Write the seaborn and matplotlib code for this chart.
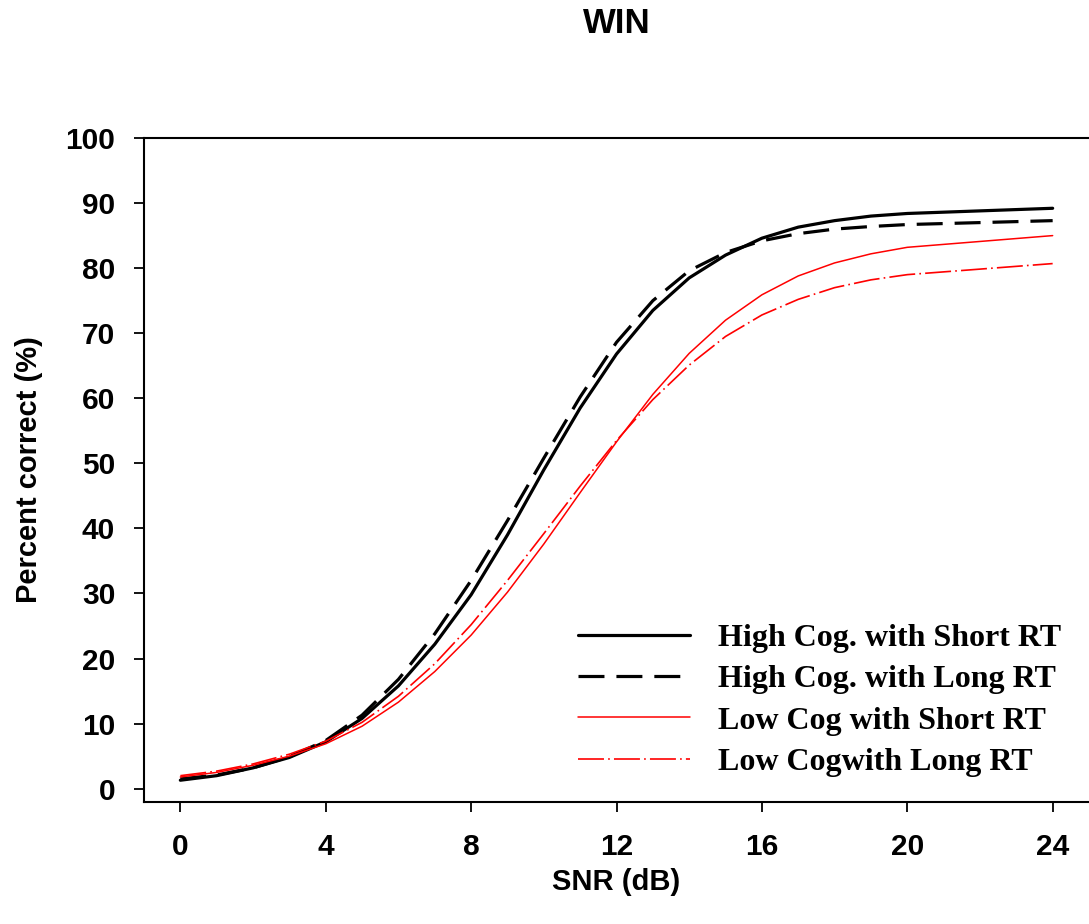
import numpy as np
import pandas as pd
import matplotlib
matplotlib.use("Agg")
import matplotlib.pyplot as plt
import seaborn as sns

# ---- data ----
snr = [0, 1, 2, 3, 4, 5, 6, 7, 8, 9, 10, 11, 12, 13, 14, 15, 16, 17, 18, 19, 20, 24]
high_short = [1.3, 2.0, 3.2, 4.8, 7.2, 10.8, 15.8, 22.2, 29.8, 39.0, 49.0, 58.5, 66.8, 73.5, 78.5, 82.0, 84.6, 86.3, 87.3, 88.0, 88.4, 89.2]
high_long = [1.5, 2.1, 3.2, 4.9, 7.4, 11.3, 16.8, 23.8, 32.0, 41.2, 50.8, 60.2, 68.6, 75.0, 79.6, 82.4, 84.2, 85.3, 86.0, 86.4, 86.7, 87.3]
low_short = [1.8, 2.5, 3.6, 5.0, 6.9, 9.6, 13.3, 18.0, 23.6, 30.2, 37.6, 45.5, 53.3, 60.6, 66.9, 72.0, 75.9, 78.8, 80.8, 82.2, 83.2, 85.0]
low_long = [2.0, 2.7, 3.8, 5.3, 7.3, 10.2, 14.2, 19.2, 25.2, 32.0, 39.2, 46.5, 53.5, 59.8, 65.1, 69.5, 72.8, 75.2, 77.0, 78.2, 79.0, 80.7]
labels = ["High Cog. with Short RT", "High Cog. with Long RT",
          "Low Cog with Short RT", "Low Cogwith Long RT"]
x_ticks = [0, 4, 8, 12, 16, 20, 24]
y_ticks = [0, 10, 20, 30, 40, 50, 60, 70, 80, 90, 100]

sns.set_theme(style="ticks")
plt.rcParams["font.family"] = ["Liberation Sans", "DejaVu Sans"]
plt.rcParams["font.weight"] = "bold"
plt.rcParams["lines.scale_dashes"] = False
plt.rcParams["text.color"] = "black"
plt.rcParams["axes.labelcolor"] = "black"
plt.rcParams["xtick.color"] = "black"
plt.rcParams["ytick.color"] = "black"

fig = plt.figure(figsize=(10.89, 9.24), dpi=100)
ax = fig.add_axes([144 / 1089, 122.3 / 924, 945 / 1089, 663.7 / 924])

series = [
    (high_short, "black", 2.3, "-"),
    (high_long, "black", 2.3, (0, (18.7, 8.6))),
    (low_short, "red", 1.1, "-"),
    (low_long, "red", 1.2, (0, (18.7, 3.0, 1.2, 3.0))),
]
for (vals, col, lw, ls), lab in zip(series, labels):
    df = pd.DataFrame({"snr": snr, "pc": vals})
    sns.lineplot(data=df, x="snr", y="pc", ax=ax, color=col, linewidth=lw,
                 linestyle=ls, label=lab, errorbar=None)

ax.set_xlim(-1, 25)
ax.set_ylim(-2, 100)
ax.set_xticks(x_ticks)
ax.set_yticks(y_ticks)
ax.tick_params(axis="both", direction="out", length=7.2, width=1.3,
               labelsize=21.5, colors="black")
ax.tick_params(axis="x", pad=15.5)
ax.tick_params(axis="y", pad=13.5)
for lab in ax.get_xticklabels() + ax.get_yticklabels():
    lab.set_fontweight("bold")

for side in ["left", "bottom", "top"]:
    ax.spines[side].set_visible(True)
    ax.spines[side].set_linewidth(1.5)
    ax.spines[side].set_color("black")
ax.spines["right"].set_visible(False)

ax.set_xlabel("SNR (dB)", fontsize=21, fontweight="bold", va="center", color="black")
ax.xaxis.set_label_coords(0.5, -0.121)
ax.set_ylabel("Percent correct (%)", fontsize=21, fontweight="bold", va="center", color="black")
ax.yaxis.set_label_coords(-0.1215, 0.5)
ax.set_title("WIN", fontsize=25, fontweight="bold", y=1.173, va="center",
             pad=0, color="black")

leg = ax.legend(loc="upper left", bbox_to_anchor=(0.459, 0.268),
                frameon=False, borderpad=0, borderaxespad=0,
                handlelength=3.5, handletextpad=0.88, labelspacing=0.37,
                prop={"family": ["Liberation Serif", "DejaVu Serif"],
                      "weight": "bold", "size": 23})
for t in leg.get_texts():
    t.set_color("black")

fig.savefig("out.png", dpi=100)
